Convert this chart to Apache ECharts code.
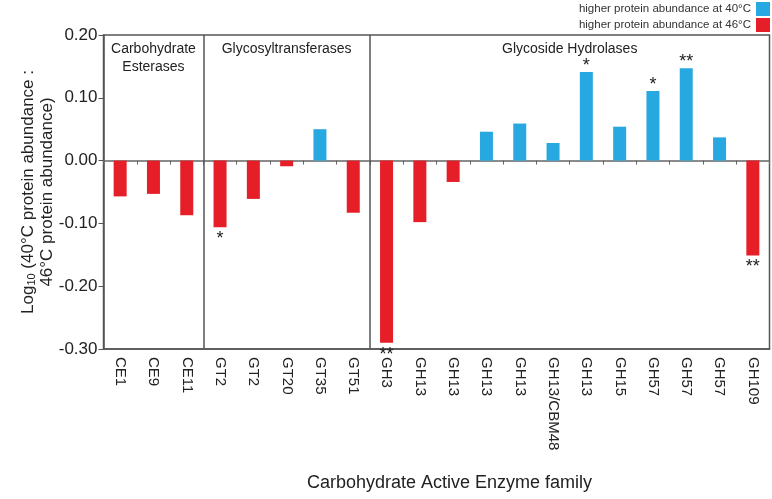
<!DOCTYPE html>
<html>
<head>
<meta charset="utf-8">
<script src="https://cdn.jsdelivr.net/npm/echarts@6/dist/echarts.min.js"></script>
<style>
  html, body { margin: 0; padding: 0; background: #fff; }
  #chart { width: 772px; height: 499px; }
</style>
</head>
<body>
<div id="chart"></div>
<script>
// enzyme families along the x axis
const categories = ['CE1', 'CE9', 'CE11', 'GT2', 'GT2', 'GT20', 'GT35', 'GT51', 'GH3', 'GH13',
  'GH13', 'GH13', 'GH13', 'GH13/CBM48', 'GH13', 'GH15', 'GH57', 'GH57', 'GH57', 'GH109']
// log10(40C / 46C) abundance ratio
const values = [-0.057, -0.053, -0.087, -0.106, -0.061, -0.009, 0.050, -0.083, -0.290, -0.098,
  -0.034, 0.046, 0.059, 0.028, 0.141, 0.054, 0.111, 0.147, 0.037, -0.151]
// significance marks
const stars = ['', '', '', '*', '', '', '', '', '**', '', '', '', '', '', '*', '', '*', '**', '', '**']
// family groups: name and category index bounds
const groupNames = ['Carbohydrate\nEsterases', 'Glycosyltransferases', 'Glycoside Hydrolases']
const groupBounds = [0, 3, 8, 20]
const yTicks = [-0.3, -0.2, -0.1, 0, 0.1, 0.2]

const BLUE = '#27a8e0'
const RED = '#e61e28'
const FONT = 'Liberation Sans, Arial, sans-serif'

const chart = echarts.init(document.getElementById('chart'))

const starLabel = (dist) => ({
  show: true,
  position: 'outside',
  distance: dist,
  fontSize: 18,
  fontFamily: FONT,
  color: '#222',
  formatter: (p) => stars[p.dataIndex]
})

const posData = values.map(v => (v > 0 ? v : '-'))
const negData = values.map(v => (v < 0 ? v : '-'))

chart.setOption({
  animation: false,
  textStyle: { fontFamily: FONT },
  grid: {
    left: 103.5,
    right: 2.5,
    top: 35,
    bottom: 150,
    show: true,
    borderColor: '#555',
    borderWidth: 1.5
  },
  legend: {
    orient: 'vertical',
    right: 2,
    top: 2,
    padding: 0,
    align: 'right',
    icon: 'rect',
    itemWidth: 14,
    itemHeight: 14,
    itemGap: 2,
    textStyle: { fontSize: 11.5, color: '#333', fontFamily: FONT },
    data: ['higher protein abundance at 40°C', 'higher protein abundance at 46°C']
  },
  xAxis: [
    {
      type: 'category',
      data: categories,
      position: 'bottom',
      axisLine: { onZero: false, lineStyle: { color: '#555', width: 1.5 } },
      axisTick: { show: false },
      axisLabel: {
        interval: 0,
        rotate: -90,
        margin: 8,
        fontSize: 15,
        color: '#222',
        fontFamily: FONT
      },
      name: 'Carbohydrate Active Enzyme family',
      nameLocation: 'middle',
      nameGap: 125,
      nameMoveOverlap: false,
      nameTextStyle: { fontSize: 18, color: '#222', fontFamily: FONT, padding: [0, 0, 0, 26] }
    },
    {
      type: 'category',
      data: categories,
      position: 'bottom',
      axisLine: { onZero: true, lineStyle: { color: '#666', width: 1.5 } },
      axisTick: { show: true, interval: 0, length: 4, lineStyle: { color: '#666' } },
      axisLabel: { show: false }
    },
    {
      type: 'value',
      min: 0,
      max: groupBounds[groupBounds.length - 1],
      show: false
    }
  ],
  yAxis: {
    type: 'value',
    min: yTicks[0],
    max: yTicks[yTicks.length - 1],
    interval: 0.1,
    splitLine: { show: false },
    axisLine: { show: true, lineStyle: { color: '#555', width: 1.5 } },
    axisTick: { show: true, length: 5, lineStyle: { color: '#555' } },
    axisLabel: {
      fontSize: 17,
      color: '#222',
      margin: 6,
      fontFamily: FONT,
      formatter: (v) => v.toFixed(2)
    },
    name: 'Log{sub|10} (40°C protein abundance :\n46°C protein abundance)',
    nameLocation: 'middle',
    nameGap: 47,
    nameMoveOverlap: false,
    nameTextStyle: {
      fontSize: 17,
      lineHeight: 19,
      color: '#222',
      fontFamily: FONT,
      rich: {
        sub: { fontSize: 11, verticalAlign: 'bottom', padding: [8, 0, 0, 0], color: '#222' }
      }
    }
  },
  series: [
    {
      name: 'higher protein abundance at 40°C',
      type: 'bar',
      stack: 'ratio',
      barWidth: 13,
      itemStyle: { color: BLUE },
      label: starLabel(-3),
      data: posData
    },
    {
      name: 'higher protein abundance at 46°C',
      type: 'bar',
      stack: 'ratio',
      barWidth: 13,
      itemStyle: { color: RED },
      label: starLabel(3),
      data: negData
    },
    {
      // group dividers and headers on a hidden index axis
      type: 'scatter',
      xAxisIndex: 2,
      data: [],
      silent: true,
      markLine: {
        silent: true,
        symbol: 'none',
        label: { show: false },
        lineStyle: { color: '#555', width: 1.5, type: 'solid' },
        data: groupBounds.slice(1, -1).map(b => ({ xAxis: b }))
      },
      markArea: {
        silent: true,
        itemStyle: { color: 'rgba(0,0,0,0)' },
        label: {
          position: 'insideTop',
          distance: 5,
          fontSize: 14,
          lineHeight: 18,
          color: '#222',
          fontFamily: FONT
        },
        data: groupNames.map((n, i) => [
          { name: n, xAxis: groupBounds[i] },
          { xAxis: groupBounds[i + 1] }
        ])
      }
    }
  ]
})
</script>
</body>
</html>
